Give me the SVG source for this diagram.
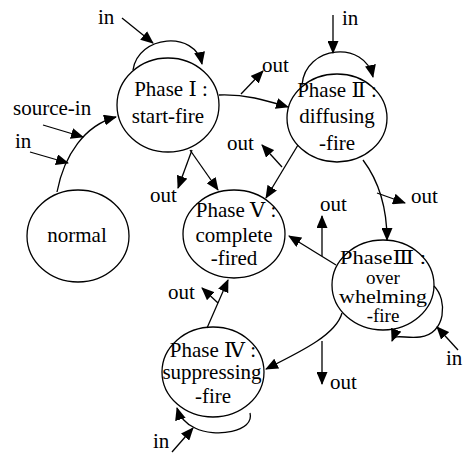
<svg xmlns="http://www.w3.org/2000/svg" width="472" height="454" viewBox="0 0 472 454">
<style>
.n{fill:none;stroke:#000;stroke-width:1.3}
.c{fill:none;stroke:#000;stroke-width:1.3;marker-end:url(#ah)}
text{font-family:"Liberation Serif","DejaVu Serif","Noto Sans CJK SC",serif;font-size:21px;fill:#000}
.m{text-anchor:middle}
.s{font-size:19px}
</style>
<defs>
<marker id="ah" markerUnits="userSpaceOnUse" markerWidth="13" markerHeight="11" refX="12" refY="5.5" orient="auto">
<path d="M0,0 L13,5.5 L0,11 z" fill="#000"/>
</marker>
</defs>
<rect width="472" height="454" fill="#fff"/>
<g id="normal">
<ellipse class="n" cx="78" cy="236" rx="51" ry="46"/>
<text class="m" x="77" y="242">normal</text>
</g>
<g id="phase1">
<ellipse class="n" cx="168" cy="105" rx="51" ry="47"/>
<text class="m" x="171" y="96">Phase Ⅰ :</text>
<text class="m" x="168" y="123">start-fire</text>
</g>
<g id="phase2">
<ellipse class="n" cx="337" cy="118" rx="50" ry="44"/>
<text class="m" x="337" y="97">Phase Ⅱ :</text>
<text class="m" x="337" y="123">diffusing</text>
<text class="m" x="337" y="150">-fire</text>
</g>
<g id="phase5">
<ellipse class="n" cx="234" cy="234" rx="51" ry="44"/>
<text class="m" x="236" y="217">Phase Ⅴ :</text>
<text class="m" x="234" y="242">complete</text>
<text class="m" x="234" y="265">-fired</text>
</g>
<g id="phase3">
<ellipse class="n" cx="383" cy="285" rx="51" ry="45"/>
<text class="m s" x="383" y="264" textLength="86" lengthAdjust="spacingAndGlyphs">PhaseⅢ :</text>
<text class="m s" x="383" y="284">over</text>
<text class="m s" x="383" y="303" textLength="88" lengthAdjust="spacingAndGlyphs">whelming</text>
<text class="m s" x="383" y="322">-fire</text>
</g>
<g id="phase4">
<ellipse class="n" cx="213" cy="372" rx="51" ry="45"/>
<text class="m" x="213" y="357">Phase Ⅳ :</text>
<text class="m" x="212" y="379">suppressing</text>
<text class="m" x="213" y="403">-fire</text>
</g>
<g id="connectors">
<path class="c" d="M57,192 C64,155 85,125 116,117"/>
<path class="c" d="M43,125 L83,137"/>
<path class="c" d="M30,152 L68,163"/>
<path class="c" d="M133,70 C138,35 195,30 202,64"/>
<path class="c" d="M122,18 L153,43"/>
<path class="c" d="M219,95 C245,94 265,100 288,107"/>
<path class="c" d="M241,94 L263,71"/>
<path class="c" d="M190,150 L218,190"/>
<path class="c" d="M192,150 L178,188"/>
<path class="c" d="M302,85 C305,45 365,40 373,77"/>
<path class="c" d="M333,15 L333,53"/>
<path class="c" d="M298,145 L266,198"/>
<path class="c" d="M282,167 L262,145"/>
<path class="c" d="M363,160 C378,180 387,205 387,240"/>
<path class="c" d="M377,193 L405,203"/>
<path class="c" d="M336,265 L289,236"/>
<path class="c" d="M322,256 L322,216"/>
<path class="c" d="M434,286 C448,300 446,334 420,337 C405,339 395,333 392,341"/>
<path class="c" d="M458,350 L437,327"/>
<path class="c" d="M342,313 C336,335 300,352 266,369"/>
<path class="c" d="M322,341 L322,384"/>
<path class="c" d="M250,413 C255,432 215,438 195,428 C186,424 180,418 177,408"/>
<path class="c" d="M172,452 L193,428"/>
<path class="c" d="M207,328 L228,280"/>
<path class="c" d="M218,303 L202,288"/>
</g>
<g id="labels">
<text x="98" y="24">in</text>
<text x="13" y="115">source-in</text>
<text x="15" y="148">in</text>
<text x="262" y="72">out</text>
<text x="342" y="25">in</text>
<text x="150" y="202">out</text>
<text x="227" y="150">out</text>
<text x="411" y="203">out</text>
<text x="320" y="211">out</text>
<text x="330" y="389">out</text>
<text x="446" y="365">in</text>
<text x="168" y="299">out</text>
<text x="153" y="448">in</text>
</g>
</svg>
